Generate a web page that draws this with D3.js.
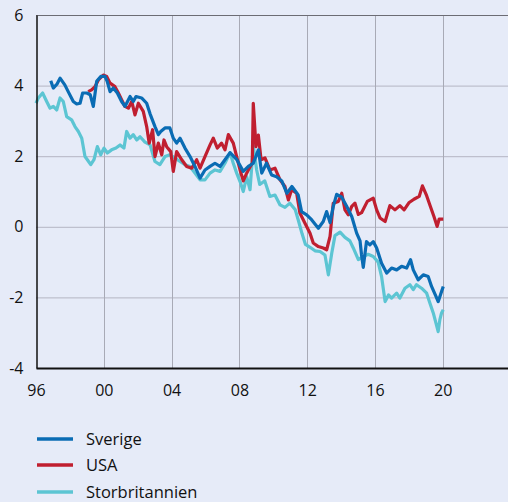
<!DOCTYPE html>
<html><head><meta charset="utf-8">
<script src="https://cdn.jsdelivr.net/npm/d3@7"></script>
<style>html,body{margin:0;padding:0;background:#e6ebf8;}svg{display:block;}</style>
</head><body><svg id="c" width="508" height="502"></svg>
<script>
const seriesNames = ["Sverige","USA","Storbritannien"];
const seriesColors = ["#0a6cb4","#c01f30","#5cc5d3"];
const xTicks = [1996,2000,2004,2008,2012,2016,2020];
const xTickLabels = ["96","00","04","08","12","16","20"];
const yTicks = [-4,-2,0,2,4,6];

const sverige = [
[1996.87,4.14],[1997.02,3.93],[1997.25,4.05],[1997.42,4.21],[1997.7,4.02],[1997.9,3.83],[1998.2,3.55],[1998.4,3.48],[1998.6,3.5],[1998.75,3.79],[1999.0,3.79],[1999.2,3.74],[1999.38,3.41],[1999.58,4.12],[1999.82,4.26],[2000.07,4.26],[2000.2,4.12],[2000.37,3.83],[2000.56,3.93],[2000.8,3.79],[2001.05,3.55],[2001.25,3.41],[2001.55,3.69],[2001.74,3.55],[2001.9,3.69],[2002.23,3.65],[2002.53,3.5],[2002.73,3.2],[2003.02,2.84],[2003.22,2.61],[2003.36,2.7],[2003.61,2.8],[2003.9,2.8],[2004.1,2.51],[2004.3,2.37],[2004.5,2.51],[2004.79,2.23],[2005.09,1.99],[2005.38,1.71],[2005.68,1.38],[2005.97,1.61],[2006.27,1.71],[2006.56,1.8],[2006.86,1.71],[2007.15,1.9],[2007.45,2.1],[2007.85,1.9],[2008.23,1.57],[2008.53,1.71],[2008.82,1.8],[2009.12,2.18],[2009.32,1.52],[2009.6,1.8],[2009.9,1.47],[2010.2,1.42],[2010.5,1.3],[2010.8,0.95],[2011.1,1.14],[2011.47,0.9],[2011.67,0.43],[2011.97,0.34],[2012.26,0.2],[2012.66,-0.04],[2012.95,0.15],[2013.15,0.43],[2013.35,0.12],[2013.54,0.58],[2013.74,0.92],[2014.04,0.84],[2014.33,0.58],[2014.63,0.29],[2014.92,-0.18],[2015.12,-0.4],[2015.21,-0.8],[2015.31,-1.15],[2015.5,-0.42],[2015.7,-0.51],[2015.9,-0.42],[2016.1,-0.6],[2016.39,-1.03],[2016.69,-1.31],[2016.98,-1.17],[2017.28,-1.22],[2017.57,-1.12],[2017.87,-1.17],[2018.1,-0.93],[2018.26,-1.22],[2018.55,-1.5],[2018.85,-1.36],[2019.14,-1.41],[2019.34,-1.69],[2019.6,-1.97],[2019.73,-2.12],[2019.93,-1.83],[2020.03,-1.69]
];
const usa = [
[1999.08,3.83],[1999.28,3.88],[1999.48,3.97],[1999.68,4.16],[1999.97,4.3],[2000.17,4.26],[2000.37,4.07],[2000.66,3.97],[2000.86,3.79],[2001.05,3.6],[2001.25,3.41],[2001.45,3.36],[2001.65,3.55],[2001.84,3.17],[2002.04,3.5],[2002.33,3.27],[2002.53,2.84],[2002.68,2.37],[2002.88,2.75],[2003.02,1.99],[2003.22,2.37],[2003.42,2.04],[2003.55,2.46],[2003.71,2.27],[2003.95,2.13],[2004.1,1.57],[2004.3,2.13],[2004.6,1.9],[2004.89,1.71],[2005.19,1.66],[2005.48,1.9],[2005.68,1.66],[2005.97,1.99],[2006.27,2.32],[2006.46,2.51],[2006.7,2.23],[2006.95,2.37],[2007.15,2.18],[2007.35,2.61],[2007.64,2.37],[2007.84,1.99],[2008.04,1.61],[2008.23,1.3],[2008.43,1.52],[2008.63,1.7],[2008.76,1.8],[2008.82,3.5],[2008.98,2.27],[2009.12,2.6],[2009.28,1.9],[2009.51,1.95],[2009.8,1.61],[2010.1,1.66],[2010.4,1.33],[2010.69,1.14],[2010.89,0.76],[2011.08,1.05],[2011.38,0.95],[2011.57,0.39],[2011.87,0.1],[2012.17,-0.18],[2012.36,-0.46],[2012.66,-0.56],[2012.95,-0.6],[2013.15,-0.65],[2013.35,-0.27],[2013.54,0.67],[2013.84,0.72],[2014.04,0.95],[2014.23,0.48],[2014.43,0.34],[2014.63,0.58],[2014.82,0.67],[2015.02,0.35],[2015.21,0.4],[2015.55,0.72],[2015.9,0.81],[2016.1,0.48],[2016.3,0.25],[2016.6,0.15],[2016.88,0.6],[2017.18,0.48],[2017.47,0.6],[2017.72,0.48],[2018.0,0.68],[2018.3,0.78],[2018.61,0.86],[2018.8,1.16],[2019.05,0.88],[2019.24,0.62],[2019.48,0.29],[2019.67,0.01],[2019.79,0.22],[2020.03,0.22]
];
const storbritannien = [
[1996.0,3.5],[1996.14,3.65],[1996.39,3.79],[1996.63,3.55],[1996.83,3.36],[1997.02,3.41],[1997.22,3.31],[1997.42,3.65],[1997.61,3.55],[1997.81,3.12],[1998.1,3.03],[1998.3,2.84],[1998.5,2.7],[1998.7,2.51],[1998.89,1.99],[1999.03,1.9],[1999.23,1.76],[1999.42,1.9],[1999.62,2.27],[1999.82,2.04],[2000.01,2.23],[2000.21,2.09],[2000.46,2.18],[2000.72,2.23],[2000.96,2.32],[2001.19,2.23],[2001.35,2.7],[2001.55,2.51],[2001.74,2.61],[2001.94,2.46],[2002.14,2.55],[2002.43,2.4],[2002.73,2.32],[2003.02,1.85],[2003.31,1.76],[2003.61,1.99],[2003.9,2.04],[2004.2,1.95],[2004.5,1.85],[2004.79,1.76],[2005.09,1.71],[2005.38,1.52],[2005.68,1.33],[2005.97,1.33],[2006.27,1.52],[2006.56,1.61],[2006.86,1.57],[2007.15,1.8],[2007.45,2.1],[2007.64,1.8],[2007.84,1.52],[2008.04,1.28],[2008.23,1.0],[2008.43,1.42],[2008.63,1.05],[2008.82,2.3],[2009.02,1.61],[2009.2,1.2],[2009.5,1.3],[2009.8,0.86],[2010.1,0.9],[2010.4,0.62],[2010.69,0.55],[2010.98,0.67],[2011.3,0.48],[2011.47,0.2],[2011.7,-0.2],[2011.9,-0.5],[2012.17,-0.58],[2012.46,-0.68],[2012.76,-0.7],[2013.05,-0.8],[2013.25,-1.36],[2013.45,-0.75],[2013.64,-0.25],[2013.94,-0.15],[2014.23,-0.3],[2014.52,-0.4],[2014.72,-0.6],[2015.02,-0.93],[2015.31,-0.84],[2015.6,-0.78],[2015.9,-0.84],[2016.19,-1.0],[2016.39,-1.41],[2016.6,-2.12],[2016.8,-1.93],[2016.98,-2.02],[2017.28,-1.88],[2017.47,-2.02],[2017.77,-1.74],[2018.06,-1.64],[2018.26,-1.78],[2018.45,-1.64],[2018.75,-1.74],[2019.05,-1.88],[2019.24,-2.16],[2019.44,-2.44],[2019.6,-2.73],[2019.73,-2.97],[2019.83,-2.63],[2019.93,-2.44],[2020.03,-2.35]
];
const seriesData = [sverige, usa, storbritannien];

const svg = d3.select("#c");
const mLeft = 36, mRight = 508, mTop = 15, mBottom = 368;
const x = d3.scaleLinear().domain([1996, 2023.85]).range([mLeft, mRight]);
const y = d3.scaleLinear().domain([-4, 6]).range([mBottom, mTop]);
const font = "'Open Sans', sans-serif";

// grid
const g = svg.append("g");
g.selectAll(".hg").data(yTicks.filter(d => d > -4 && d < 6)).enter().append("line")
  .attr("x1", mLeft).attr("x2", mRight).attr("y1", d => y(d)+0.5).attr("y2", d => y(d)+0.5)
  .attr("stroke", "#b4b6c3").attr("stroke-width", 1);
g.selectAll(".vg").data(xTicks.filter(d => d > 1996)).enter().append("line")
  .attr("y1", mTop).attr("y2", mBottom).attr("x1", d => Math.round(x(d))+0.5).attr("x2", d => Math.round(x(d))+0.5)
  .attr("stroke", "#a8aab6").attr("stroke-width", 1);
g.append("line").attr("x1", mLeft).attr("x2", mRight).attr("y1", mTop+0.5).attr("y2", mTop+0.5)
  .attr("stroke", "#6c6c74").attr("stroke-width", 1);

// lines (draw Storbritannien first, then USA, then Sverige on top)
const line = d3.line().x(d => x(d[0])).y(d => y(d[1]));
[2, 1, 0].forEach(idx => {
  svg.append("path").datum(seriesData[idx]).attr("d", line).attr("fill", "none")
    .attr("stroke", seriesColors[idx]).attr("stroke-width", 3.2).attr("stroke-linejoin", "round");
});

// axes
const yAxis = d3.axisLeft(y).tickValues(yTicks).tickSize(0).tickPadding(10).tickFormat(d => d);
const ya = svg.append("g").attr("transform", `translate(${mLeft+0.5},0)`).call(yAxis);
ya.select(".domain").attr("stroke", "#111").attr("stroke-width", 1.5);
ya.selectAll("text").attr("font-family", font).attr("font-size", 16).attr("fill", "#111").attr("dx", -3);

const xAxis = d3.axisBottom(x).tickValues(xTicks).tickSize(0).tickPadding(17).tickFormat((d, i) => xTickLabels[i]);
const xa = svg.append("g").attr("transform", `translate(0,${mBottom})`).call(xAxis);
xa.select(".domain").attr("stroke", "#111").attr("stroke-width", 2);
xa.selectAll("text").attr("font-family", font).attr("font-size", 16).attr("fill", "#111");

// legend
const leg = svg.append("g");
const legY = [439, 465, 492];
seriesNames.forEach((n, i) => {
  leg.append("line").attr("x1", 37).attr("x2", 73).attr("y1", legY[i]).attr("y2", legY[i])
    .attr("stroke", seriesColors[i]).attr("stroke-width", 3.5);
  leg.append("text").attr("x", 86).attr("y", legY[i]).attr("dy", "0.35em")
    .attr("font-family", font).attr("font-size", 16.5).attr("fill", "#111").text(n);
});
</script></body></html>
